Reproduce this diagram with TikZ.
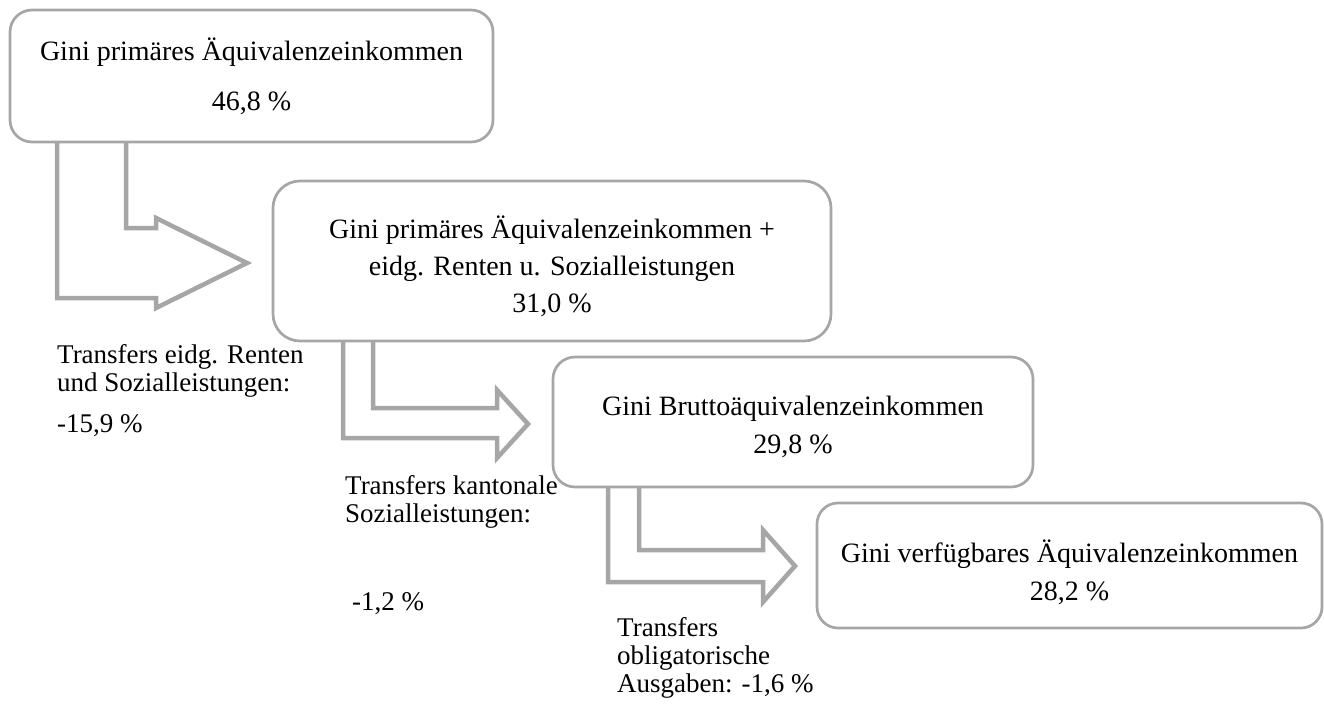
\documentclass[tikz,border=0pt]{standalone}
\usepackage{fontspec}
\setmainfont{Liberation Serif}
\definecolor{linegray}{HTML}{A6A6A6}
\begin{document}
\begin{tikzpicture}[x=1pt,y=-1pt,
  box/.style={draw=linegray, line width=2.7pt, fill=white, inner sep=0pt, outer sep=0pt},
  arr/.style={draw=linegray, line width=4.5pt, line join=miter},
  bt/.style={font=\fontsize{28}{34}\selectfont, anchor=base, inner sep=0pt},
  lt/.style={font=\fontsize{27}{30}\selectfont, anchor=base west, inner sep=0pt}]
\useasboundingbox (0,0) rectangle (1324,704);

% boxes
\node[box, rounded corners=22pt, minimum width=483pt, minimum height=132pt] (b1) at (251.5,76) {};
\node[box, rounded corners=27pt, minimum width=558pt, minimum height=160pt] (b2) at (552,261) {};
\node[box, rounded corners=22pt, minimum width=480pt, minimum height=130pt] (b3) at (793,422) {};
\node[box, rounded corners=21pt, minimum width=505pt, minimum height=125pt] (b4) at (1069.5,565.5) {};

% block arrows
\draw[arr] (126,0 |- b1.south) -- (126,228) -- (156,228) -- (156,218) -- (247,263)
  -- (156,308) -- (156,298) -- (57,298) -- (57,0 |- b1.south);
\draw[arr] (373,0 |- b2.south) -- (373,408) -- (497,408) -- (497,390) -- (528,424)
  -- (497,458) -- (497,438) -- (343,438) -- (343,0 |- b2.south);
\draw[arr] (639,0 |- b3.south) -- (639,550) -- (763,550) -- (763,530) -- (795,566)
  -- (763,602) -- (763,582) -- (608,582) -- (608,0 |- b3.south);

% box texts
\node[bt] (t1a) at (251.5,60) {Gini primäres Äquivalenzeinkommen};
\node[bt] (t1b) at (251.5,110) {46,8 \%};
\node[bt] (t2a) at (552,238) {Gini primäres Äquivalenzeinkommen +};
\node[bt] (t2b) at (552,275) {eidg. Renten u. Sozialleistungen};
\node[bt] (t2c) at (552,312) {31,0 \%};
\node[bt] (t3a) at (793,415) {Gini Bruttoäquivalenzeinkommen};
\node[bt] (t3b) at (793,453) {29,8 \%};
\node[bt] (t4a) at (1069.5,562) {Gini verfügbares Äquivalenzeinkommen};
\node[bt] (t4b) at (1069.5,600) {28,2 \%};

% transfer labels
\node[lt] (l1a) at (57,363) {Transfers eidg. Renten};
\node[lt] (l1b) at (57,391) {und Sozialleistungen:};
\node[lt] (l1c) at (57,432) {-15,9 \%};
\node[lt] (l2a) at (345,494) {Transfers kantonale};
\node[lt] (l2b) at (345,522) {Sozialleistungen:};
\node[lt] (l2c) at (352,610) {-1,2 \%};
\node[lt] (l3a) at (617,636) {Transfers};
\node[lt] (l3b) at (617,664) {obligatorische};
\node[lt] (l3c) at (617,692) {Ausgaben: -1,6 \%};
\end{tikzpicture}
\end{document}
